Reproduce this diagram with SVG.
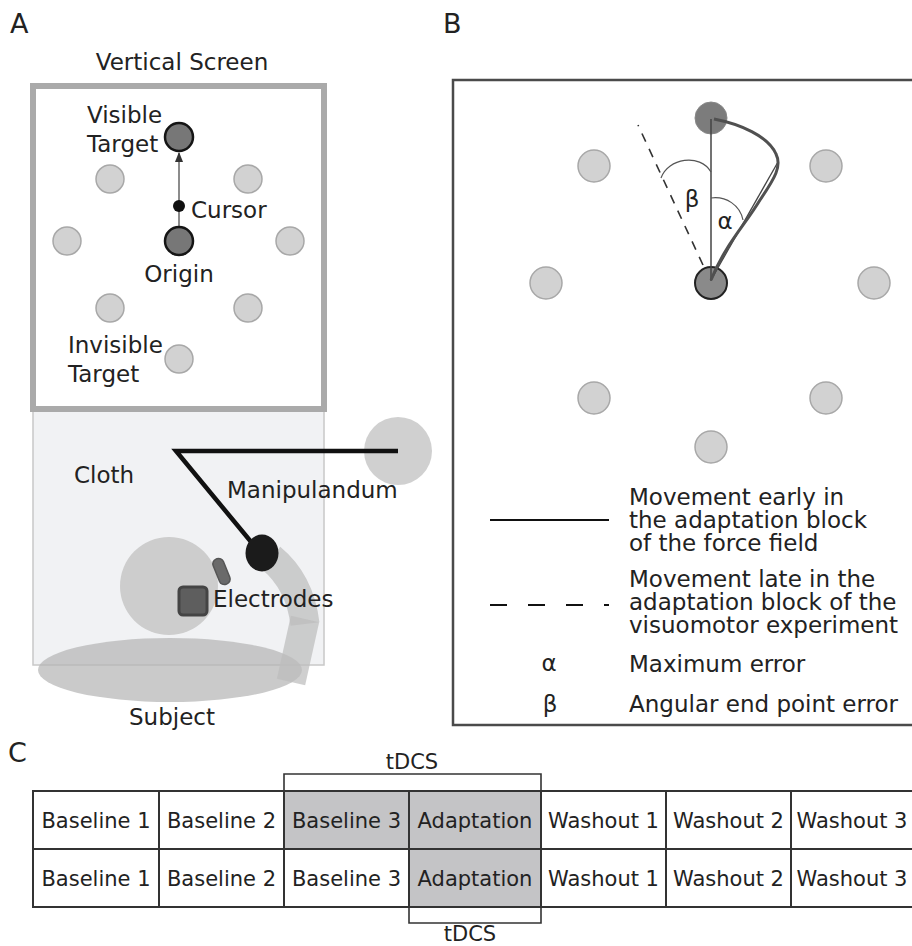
<svg xmlns="http://www.w3.org/2000/svg" width="912" height="946" viewBox="0 0 912 946">
  <style>
    text { font-family: "DejaVu Sans", "Noto Sans", sans-serif; fill: #222; }
    .lbl { font-size: 23px; }
    .panel { font-size: 27px; }
    .cell { font-size: 21px; text-anchor: middle; }
    .tgt { fill: #d2d2d2; stroke: #a8a8a8; stroke-width: 1.5; }
    .tgtDark { fill: #777; stroke: #151515; stroke-width: 2.5; }
    .tbl { fill: #fff; stroke: #333; stroke-width: 2; }
    .tblOn { fill: #c4c4c6; stroke: #333; stroke-width: 2; }
    .brk { fill: none; stroke: #333; stroke-width: 1.6; }
    .arm { fill: none; stroke: #bcbcbc; stroke-width: 29; stroke-opacity: 0.72; }
  </style>
  <defs>
    <marker id="tip" viewBox="0 0 10 10" refX="9" refY="5" markerWidth="7" markerHeight="7" orient="auto">
      <path d="M0,1 L10,5 L0,9 z" fill="#333"/>
    </marker>
  </defs>

  <rect width="912" height="946" fill="#fff"/>

  <!-- Panel A: setup -->
  <g id="panelA">
    <text class="panel" x="10" y="33">A</text>
    <text class="lbl" x="182" y="70" text-anchor="middle">Vertical Screen</text>

    <!-- cloth over the table -->
    <rect id="cloth" x="33" y="409" width="291" height="256" fill="#f1f2f4" stroke="#c8c8c8" stroke-width="1.5"/>

    <!-- subject: body, head, arm -->
    <g id="subject">
      <ellipse cx="170" cy="670" rx="132" ry="32" fill="#b4b4b4" fill-opacity="0.7"/>
      <circle cx="169" cy="586" r="49" fill="#cdcdcd"/>
      <path class="arm" d="M271,558 Q300,582 305,624"/>
      <path class="arm" d="M305,619 L291,682"/>
      <text class="lbl" x="129" y="725">Subject</text>
    </g>

    <!-- electrodes -->
    <g id="electrodes">
      <rect x="179" y="587" width="28" height="28" rx="4" fill="#5e5e5e" stroke="#444" stroke-width="3"/>
      <rect x="216" y="558" width="11" height="27" rx="5" fill="#6a6a6a" stroke="#555" stroke-width="1.5" transform="rotate(-22 221.5 571.5)"/>
      <text class="lbl" x="213" y="607">Electrodes</text>
    </g>

    <!-- manipulandum -->
    <g id="manipulandum">
      <circle cx="398" cy="451" r="34" fill="#d0d0d0"/>
      <path d="M398,451 H176 L252,543" fill="none" stroke="#111" stroke-width="4.5" stroke-linejoin="miter"/>
      <ellipse cx="262" cy="553" rx="16.5" ry="18.5" fill="#1b1b1b"/>
      <text class="lbl" x="227" y="498">Manipulandum</text>
    </g>
    <text class="lbl" x="74" y="483">Cloth</text>

    <!-- screen with targets -->
    <g id="screen">
      <rect x="33" y="86" width="291" height="323" fill="#fff" stroke="#aaa" stroke-width="6"/>
      <circle class="tgt" cx="110" cy="179" r="14"/>
      <circle class="tgt" cx="248" cy="179" r="14"/>
      <circle class="tgt" cx="67" cy="241" r="14"/>
      <circle class="tgt" cx="290" cy="241" r="14"/>
      <circle class="tgt" cx="110" cy="308" r="14"/>
      <circle class="tgt" cx="248" cy="308" r="14"/>
      <circle class="tgt" cx="179" cy="359" r="14"/>
      <line x1="179" y1="226" x2="179" y2="153" stroke="#666" stroke-width="1.5" marker-end="url(#tip)"/>
      <circle class="tgtDark" cx="179" cy="137" r="14"/>
      <circle class="tgtDark" cx="179" cy="241" r="14"/>
      <circle cx="179" cy="206" r="6" fill="#111"/>
      <text class="lbl" x="87" y="123">Visible</text>
      <text class="lbl" x="87" y="152">Target</text>
      <text class="lbl" x="191" y="218">Cursor</text>
      <text class="lbl" x="179" y="282" text-anchor="middle">Origin</text>
      <text class="lbl" x="68" y="353">Invisible</text>
      <text class="lbl" x="68" y="382">Target</text>
    </g>
  </g>

  <!-- Panel B: error measures -->
  <g id="panelB">
    <text class="panel" x="443" y="33">B</text>
    <rect x="453" y="80" width="462" height="645" fill="#fff" stroke="#4a4a4a" stroke-width="2.5"/>

    <g id="targetsB">
      <circle class="tgt" cx="594" cy="166" r="16"/>
      <circle class="tgt" cx="826" cy="166" r="16"/>
      <circle class="tgt" cx="546" cy="283" r="16"/>
      <circle class="tgt" cx="874" cy="283" r="16"/>
      <circle class="tgt" cx="594" cy="398" r="16"/>
      <circle class="tgt" cx="826" cy="398" r="16"/>
      <circle class="tgt" cx="711" cy="447" r="16"/>
      <circle cx="711" cy="118" r="16" fill="#7c7c7c" stroke="#888" stroke-width="1"/>
      <circle cx="711" cy="283" r="16" fill="#8a8a8a" stroke="#222" stroke-width="2"/>
    </g>

    <g id="traces">
      <line x1="711" y1="281" x2="711" y2="119" stroke="#444" stroke-width="1.5"/>
      <line x1="703" y1="265" x2="638" y2="125" stroke="#333" stroke-width="1.6" stroke-dasharray="9 8"/>
      <line x1="711" y1="280" x2="778" y2="162" stroke="#444" stroke-width="1.3"/>
      <path d="M711,280 C725,245 745,225 760,200 C775,178 782,166 776,154 C768,136 740,124 714,119" fill="none" stroke="#505050" stroke-width="3"/>
      <path d="M661,178 C668,158 700,153 711,172" fill="none" stroke="#555" stroke-width="1.2"/>
      <path d="M711,198 C726,196 740,205 743,220" fill="none" stroke="#555" stroke-width="1.2"/>
      <text class="lbl" x="692" y="207" text-anchor="middle">β</text>
      <text class="lbl" x="725" y="229" text-anchor="middle">α</text>
    </g>

    <g id="legend">
      <line x1="490" y1="520" x2="609" y2="520" stroke="#111" stroke-width="2"/>
      <text class="lbl" x="629" y="505">Movement early in</text>
      <text class="lbl" x="629" y="528">the adaptation block</text>
      <text class="lbl" x="629" y="551">of the force field</text>
      <line x1="490" y1="605" x2="609" y2="605" stroke="#111" stroke-width="2" stroke-dasharray="17 21"/>
      <text class="lbl" x="629" y="587">Movement late in the</text>
      <text class="lbl" x="629" y="610">adaptation block of the</text>
      <text class="lbl" x="629" y="633">visuomotor experiment</text>
      <text class="lbl" x="549" y="671" text-anchor="middle">α</text>
      <text class="lbl" x="629" y="672">Maximum error</text>
      <text class="lbl" x="550" y="712" text-anchor="middle">β</text>
      <text class="lbl" x="629" y="712">Angular end point error</text>
    </g>
  </g>

  <!-- Panel C: block schedule -->
  <g id="panelC">
    <text class="panel" x="8" y="762">C</text>

    <g id="row1">
      <rect class="tbl" x="33" y="791" width="126" height="58"/>
      <rect class="tbl" x="159" y="791" width="125" height="58"/>
      <rect class="tblOn" x="284" y="791" width="125" height="58"/>
      <rect class="tblOn" x="409" y="791" width="132" height="58"/>
      <rect class="tbl" x="541" y="791" width="125" height="58"/>
      <rect class="tbl" x="666" y="791" width="125" height="58"/>
      <rect class="tbl" x="791" y="791" width="126" height="58"/>
      <text class="cell" x="96" y="828">Baseline 1</text>
      <text class="cell" x="221.5" y="828">Baseline 2</text>
      <text class="cell" x="346.5" y="828">Baseline 3</text>
      <text class="cell" x="475" y="828">Adaptation</text>
      <text class="cell" x="603.5" y="828">Washout 1</text>
      <text class="cell" x="728.5" y="828">Washout 2</text>
      <text class="cell" x="852" y="828">Washout 3</text>
    </g>

    <g id="row2">
      <rect class="tbl" x="33" y="849" width="126" height="58"/>
      <rect class="tbl" x="159" y="849" width="125" height="58"/>
      <rect class="tbl" x="284" y="849" width="125" height="58"/>
      <rect class="tblOn" x="409" y="849" width="132" height="58"/>
      <rect class="tbl" x="541" y="849" width="125" height="58"/>
      <rect class="tbl" x="666" y="849" width="125" height="58"/>
      <rect class="tbl" x="791" y="849" width="126" height="58"/>
      <text class="cell" x="96" y="886">Baseline 1</text>
      <text class="cell" x="221.5" y="886">Baseline 2</text>
      <text class="cell" x="346.5" y="886">Baseline 3</text>
      <text class="cell" x="475" y="886">Adaptation</text>
      <text class="cell" x="603.5" y="886">Washout 1</text>
      <text class="cell" x="728.5" y="886">Washout 2</text>
      <text class="cell" x="852" y="886">Washout 3</text>
    </g>

    <g id="tdcsTop">
      <path class="brk" d="M284,791 V774 H541 V791"/>
      <text class="cell" x="412" y="769">tDCS</text>
    </g>
    <g id="tdcsBottom">
      <path class="brk" d="M409,907 V923 H541 V907"/>
      <text class="cell" x="470" y="941">tDCS</text>
    </g>
  </g>
</svg>
